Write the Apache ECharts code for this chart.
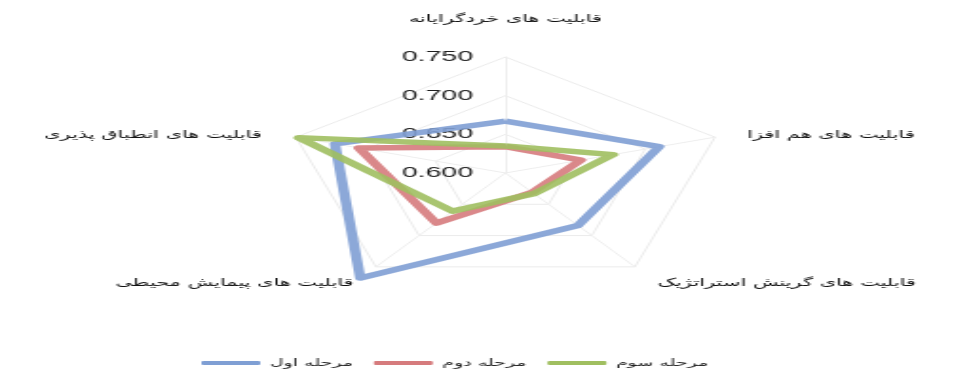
<!DOCTYPE html>
<html>
<head>
<meta charset="utf-8">
<script src="https://cdn.jsdelivr.net/npm/echarts@6/dist/echarts.min.js"></script>
<style>
html,body{margin:0;padding:0;background:#fff;overflow:hidden;width:954px;height:378px;}
#c{width:502px;height:378px;transform:scaleX(1.9);transform-origin:0 0;}
</style>
</head>
<body>
<div id="c"></div>
<script>
// indicators listed counter-clockwise from the top (ECharts order)
const indicatorNames = [
  'قابلیت های خردگرایانه',
  'قابلیت های انطباق پذیری',
  'قابلیت های پیمایش محیطی',
  'قابلیت های گرینش استراتژیک',
  'قابلیت های هم افزا'
];
const seriesNames = ['مرحله اول', 'مرحله دوم', 'مرحله سوم'];
const stage1 = [0.667, 0.722, 0.768, 0.684, 0.710];
const stage2 = [0.634, 0.705, 0.680, 0.631, 0.654];
const stage3 = [0.635, 0.748, 0.661, 0.633, 0.677];
const axisMin = 0.6, axisMax = 0.75, axisSplits = 3;

const colors = ['#7f9fd4', '#d67b7d', '#a0bf60'];
const values = [stage1, stage2, stage3];

const nameFont = {fontFamily: 'DejaVu Sans', fontSize: 11, color: '#111'};
const namePads = [[0, 0, 29, 0], [0, 15, 3, 0], [28, 10, 0, 0], [28, 0, 0, 10], [0, 0, 3, 14]];
const rich = {};
namePads.forEach(function (p, i) { rich['n' + i] = Object.assign({padding: p}, nameFont); });

const chart = echarts.init(document.getElementById('c'));
chart.setOption({
  animation: false,
  legend: {
    data: seriesNames,
    left: 101,
    top: 353,
    itemWidth: 31,
    itemHeight: 4,
    itemGap: 11,
    icon: 'roundRect',
    textStyle: {fontFamily: 'DejaVu Sans', fontSize: 10, color: '#222'}
  },
  radar: {
    center: [266, 173],
    radius: 116,
    shape: 'polygon',
    splitNumber: axisSplits,
    startAngle: 90,
    axisName: Object.assign({
      formatter: function (n) {
        return '{n' + indicatorNames.indexOf(n) + '|' + n + '}';
      },
      rich: rich
    }, nameFont),
    nameGap: 3,
    splitLine: {lineStyle: {color: '#ebebeb', width: 1}},
    splitArea: {show: false},
    axisLine: {lineStyle: {color: '#eeeeee', width: 1}},
    axisLabel: {show: false},
    indicator: indicatorNames.map(function (n, i) {
      const o = {name: n, min: axisMin, max: axisMax};
      if (i === 0) {
        o.axisLabel = {
          show: true,
          fontFamily: 'Liberation Sans',
          fontSize: 15,
          color: '#1e1e1e',
          margin: 17,
          formatter: function (v) { return Number(v).toFixed(3); }
        };
      }
      return o;
    })
  },
  series: [{
    type: 'radar',
    symbol: 'none',
    data: values.map(function (v, i) {
      return {
        name: seriesNames[i],
        value: v,
        lineStyle: {color: colors[i], width: 5.5, opacity: 0.9},
        itemStyle: {color: colors[i]}
      };
    })
  }]
});
</script>
</body>
</html>
